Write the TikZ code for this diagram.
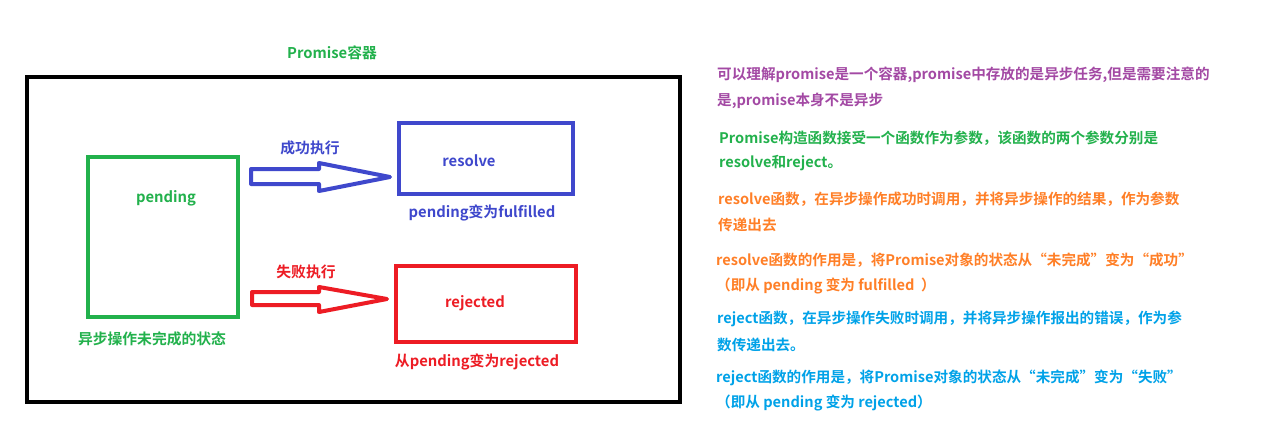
\documentclass[tikz,border=0pt]{standalone}
\usepackage{fontspec}
\setmainfont{Noto Sans CJK SC Bold}
\newfontfamily\cjkb{Noto Sans CJK SC Bold}
\definecolor{cgreen}{HTML}{22B14C}
\definecolor{cblue}{HTML}{3F48CC}
\definecolor{cred}{HTML}{ED1C24}
\definecolor{corange}{HTML}{FF7F27}
\definecolor{cpurple}{HTML}{A349A4}
\definecolor{clblue}{HTML}{00A2E8}
\begin{document}
\begin{tikzpicture}[x=1pt,y=-1pt,
  lbl/.style={font=\cjkb\fontsize{14.8}{14.8}\selectfont, inner sep=0pt},
  rtxt/.style={font=\cjkb\fontsize{14.6}{14.6}\selectfont, inner sep=0pt, anchor=west},
  statebox/.style={draw, line width=3.5pt, inner sep=0pt},
  hollow/.style={line width=4pt, line join=round, line cap=round}]
\useasboundingbox (0,0) rectangle (1261,447);
\fill[white] (0,0) rectangle (1261,447);
% outer container
\node[draw=black, line width=4pt, minimum width=653pt, minimum height=325pt, inner sep=0pt] (outer) at (353.5,239.5) {};
\node[lbl, text=cgreen] (title) at (332,53) {Promise容器};
% pending
\node[statebox, draw=cgreen, minimum width=150pt, minimum height=160pt] (pend) at (163,237) {};
\node[lbl, text=cgreen] (pendt) at (166,198) {pending};
\node[lbl, text=cgreen] (pendc) at (152,339) {异步操作未完成的状态};
% resolve
\node[statebox, draw=cblue, minimum width=174pt, minimum height=71pt] (res) at (486,158.5) {};
\node[lbl, text=cblue] (rest) at (469,161) {resolve};
\node[lbl, text=cblue] (resc) at (482,213) {pending变为fulfilled};
% rejected
\node[statebox, draw=cred, minimum width=180pt, minimum height=76pt] (rej) at (486,304) {};
\node[lbl, text=cred] (rejt) at (475,303) {rejected};
\node[lbl, text=cred] (rejc) at (477,362) {从pending变为rejected};
% arrows
\coordinate (bt) at (390,177);
\draw[hollow, cblue] (251,169) -- (319,169) -- (319,163) -- (bt) -- (319,191) -- (319,184) -- (251,184) -- cycle;
\node[lbl, text=cblue] (blab) at (310,148) {成功执行};
\coordinate (rt) at (387,299);
\draw[hollow, cred] (252,292) -- (319,292) -- (319,287) -- (rt) -- (319,312) -- (319,305) -- (252,305) -- cycle;
\node[lbl, text=cred] (rlab) at (306,272) {失败执行};
% right texts
\node[rtxt, text=cpurple] (p1) at (717,75) {可以理解promise是一个容器,promise中存放的是异步任务,但是需要注意的};
\node[rtxt, text=cpurple] (p2) at (717,101) {是,promise本身不是异步};
\node[rtxt, text=cgreen] (g1) at (719,138) {Promise构造函数接受一个函数作为参数，该函数的两个参数分别是};
\node[rtxt, text=cgreen] (g2) at (719,163) {resolve和reject。};
\node[rtxt, text=corange] (o1) at (718,199) {resolve函数，在异步操作成功时调用，并将异步操作的结果，作为参数};
\node[rtxt, text=corange] (o2) at (718,225) {传递出去};
\node[rtxt, text=corange] (o3) at (716,260) {resolve函数的作用是，将Promise对象的状态从“未完成”变为“成功”};
\node[rtxt, text=corange] (o4) at (716,286) {（即从 pending 变为 fulfilled \ ）};
\node[rtxt, text=clblue] (b1) at (717,319) {reject函数，在异步操作失败时调用，并将异步操作报出的错误，作为参};
\node[rtxt, text=clblue] (b2) at (717,345) {数传递出去。};
\node[rtxt, text=clblue] (b3) at (716,378) {reject函数的作用是，将Promise对象的状态从“未完成”变为“失败”};
\node[rtxt, text=clblue] (b4) at (716,403) {（即从 pending 变为 rejected）};
\end{tikzpicture}
\end{document}
